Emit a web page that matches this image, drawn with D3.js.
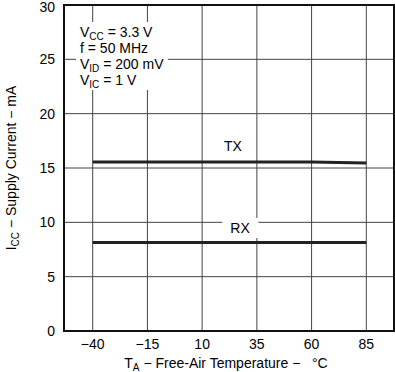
<!DOCTYPE html>
<html lang="en">
<head>
<meta charset="UTF-8">
<script src="https://d3js.org/d3.v7.min.js"></script>
<style>
  body { margin: 0; background: #fff; }
  svg { font-family: "Liberation Sans", Arial, sans-serif; }
</style>
</head>
<body>
<div id="container"></div>
<script>
// data
var temps = [-40, -15, 10, 35, 60, 85];
var txCurrent = [15.55, 15.55, 15.55, 15.55, 15.55, 15.45];
var rxCurrent = [8.15, 8.15, 8.15, 8.15, 8.15, 8.15];
var xTicks = [-40, -15, 10, 35, 60, 85];
var yTicks = [0, 5, 10, 15, 20, 25, 30];

var width = 395, height = 372;
var box = {left: 64, right: 394, top: 5, bottom: 331};

var svg = d3.select("#container").append("svg")
    .attr("width", width).attr("height", height);

var x = d3.scaleLinear().domain([-40, 85]).range([92.7, 366.3]);
var y = d3.scaleLinear().domain([0, 30]).range([box.bottom, box.top]);

// grid
svg.append("g").selectAll("line").data(xTicks).enter().append("line")
    .attr("x1", d => x(d)).attr("x2", d => x(d))
    .attr("y1", box.top).attr("y2", box.bottom)
    .attr("stroke", "#444").attr("stroke-width", 1);
svg.append("g").selectAll("line").data(yTicks.slice(1, -1)).enter().append("line")
    .attr("x1", box.left).attr("x2", box.right)
    .attr("y1", d => y(d)).attr("y2", d => y(d))
    .attr("stroke", "#444").attr("stroke-width", 1);

// frame
svg.append("rect")
    .attr("x", box.left).attr("y", box.top)
    .attr("width", box.right - box.left).attr("height", box.bottom - box.top)
    .attr("fill", "none").attr("stroke", "#111").attr("stroke-width", 2);

// axes tick labels
svg.append("g").selectAll("text").data(xTicks).enter().append("text")
    .attr("x", d => x(d)).attr("y", 349)
    .attr("text-anchor", "middle").attr("font-size", 14)
    .text(d => d < 0 ? "\u2212" + Math.abs(d) : d);
svg.append("g").selectAll("text").data(yTicks).enter().append("text")
    .attr("x", 55).attr("y", d => Math.max(y(d) + 5, 12))
    .attr("text-anchor", "end").attr("font-size", 14)
    .text(d => d);

// lines
var line = d3.line().x(d => x(d[0])).y(d => y(d[1]));
[txCurrent, rxCurrent].forEach(function(s) {
  svg.append("path")
    .datum(temps.map((t, i) => [t, s[i]]))
    .attr("d", line)
    .attr("fill", "none").attr("stroke", "#222").attr("stroke-width", 3);
});

// curve labels
function label(txt, cx, cy) {
  var t = svg.append("text").attr("x", cx).attr("y", cy)
      .attr("text-anchor", "middle").attr("font-size", 14).text(txt);
  var b = t.node().getBBox();
  svg.insert("rect", function() { return t.node(); })
      .attr("x", b.x - 8).attr("y", b.y - 2)
      .attr("width", b.width + 16).attr("height", b.height + 4)
      .attr("fill", "#fff");
}
label("TX", 233, 151);
label("RX", 240, 233);

// conditions box
svg.append("rect").attr("x", 76).attr("y", 22).attr("width", 92).attr("height", 68).attr("fill", "#fff");
var cond = svg.append("g").attr("font-size", 14);
function condLine(yy, main, sub, rest) {
  var t = cond.append("text").attr("x", 80).attr("y", yy);
  t.append("tspan").text(main);
  if (sub) {
    t.append("tspan").attr("font-size", 10).attr("dy", 3).text(sub);
    t.append("tspan").attr("dy", -3).text(rest);
  } else {
    t.append("tspan").text(rest);
  }
}
condLine(37, "V", "CC", " = 3.3 V");
condLine(53, "f", null, " = 50 MHz");
condLine(69, "V", "ID", " = 200 mV");
condLine(85, "V", "IC", " = 1 V");

// axis titles
var xt = svg.append("text").attr("x", 226).attr("y", 368)
    .attr("text-anchor", "middle").attr("font-size", 14);
xt.append("tspan").text("T");
xt.append("tspan").attr("font-size", 10).attr("dy", 3).text("A");
xt.append("tspan").attr("dy", -3).text(" \u2212 Free-Air Temperature \u2212\u00A0\u00A0 \u00B0C");

var yt = svg.append("text")
    .attr("transform", "translate(16,168) rotate(-90)")
    .attr("text-anchor", "middle").attr("font-size", 14);
yt.append("tspan").text("I");
yt.append("tspan").attr("font-size", 10).attr("dy", 3).text("CC");
yt.append("tspan").attr("dy", -3).text(" \u2212 Supply Current \u2212 mA");
</script>
</body>
</html>
